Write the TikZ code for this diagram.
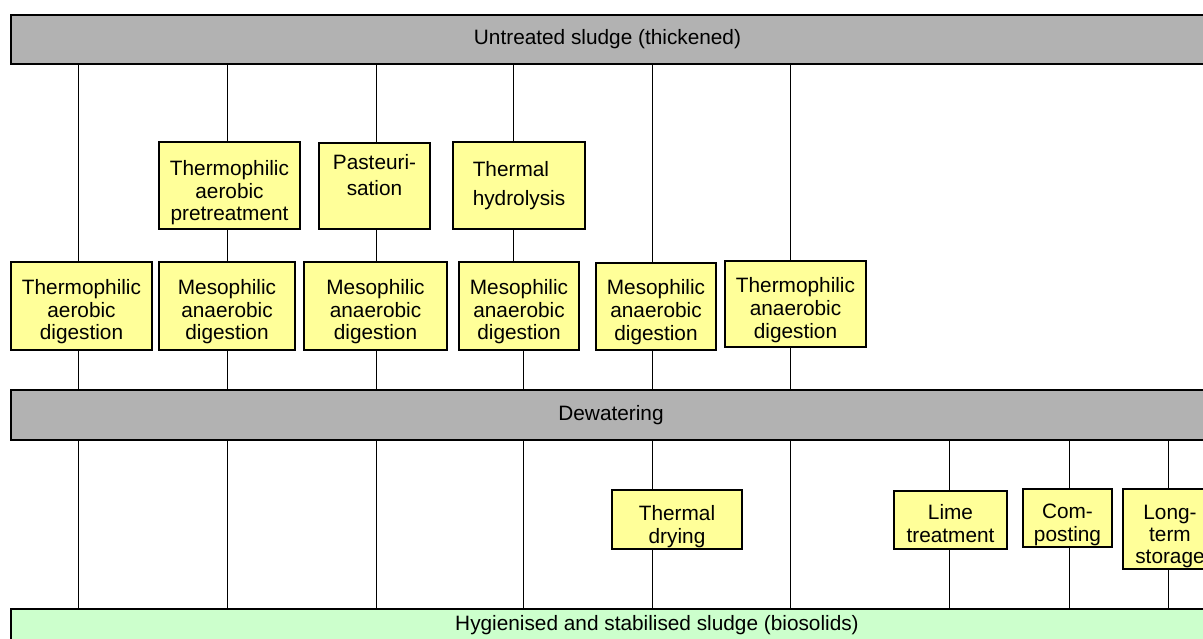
\documentclass[tikz,border=0pt]{standalone}
\usepackage{fontspec}
\setmainfont{Liberation Sans}
\definecolor{bargrey}{HTML}{B2B2B2}
\definecolor{boxyellow}{HTML}{FFFF99}
\definecolor{bargreen}{HTML}{CCFFCC}

\begin{document}
\begin{tikzpicture}
    [
    x=1pt, y=-1pt,
    every node/.style={font=\fontsize{20.8}{22.8}\selectfont},
    bar/.style={draw,line width=1.8pt,fill=bargrey,inner sep=0pt,minimum height=49pt},
    stage/.style={draw,line width=1.5pt,fill=boxyellow,align=center,inner sep=0pt,minimum height=87pt,text height=68pt,text depth=0pt},
    short/.style={text height=47pt},
    link/.style={line width=0.9pt}
    ]
    \useasboundingbox (0,0) rectangle (1203,639);

    % sludge streams
    \node[bar,minimum width=1193pt] (top) at (607.5,39.5) {Untreated sludge (thickened)};
    \node[bar,minimum width=1200pt,minimum height=50pt] (dew) at (611,415) {Dewatering};
    \node[bar,fill=bargreen,minimum width=1292pt,anchor=north,text height=22pt,text depth=30pt] (bio) at (657,608) {Hygienised and stabilised sludge (biosolids)};

    % pretreatment
    \node[stage,minimum width=141pt,text height=71pt] (tap) at (229.5,185.5) {Thermophilic\\aerobic\\pretreatment};
    \node[stage,minimum width=111pt,minimum height=86pt,text height=64pt] (past) at (374.5,186) {Pasteuri-\\[3pt]sation\\\mbox{}};
    \node[stage,minimum width=132pt,align=left,text height=44pt,text depth=4pt] (thy) at (519,185.5) {Thermal\\[6pt]hydrolysis};

    % digestion
    \node[stage,minimum width=141pt,minimum height=88pt] (tad) at (81.5,306) {Thermophilic\\aerobic\\digestion};
    \node[stage,minimum width=136pt,minimum height=88pt] (mad1) at (227,306) {Mesophilic\\anaerobic\\digestion};
    \node[stage,minimum width=143pt,minimum height=88pt] (mad2) at (375.5,306) {Mesophilic\\anaerobic\\digestion};
    \node[stage,minimum width=120pt,minimum height=88pt] (mad3) at (519,306) {Mesophilic\\anaerobic\\digestion};
    \node[stage,minimum width=120pt] (mad4) at (656,306.5) {Mesophilic\\anaerobic\\digestion};
    \node[stage,minimum width=141pt,minimum height=86pt] (thad) at (795.5,304) {Thermophilic\\anaerobic\\digestion};

    % after dewatering
    \node[stage,short,minimum width=130pt,minimum height=59pt] (dry) at (677,519.5) {Thermal\\drying};
    \node[stage,short,minimum width=113pt,minimum height=58pt,text height=45pt] (lime) at (950.5,520) {Lime\\treatment};
    \node[stage,short,minimum width=89pt,minimum height=58pt] (comp) at (1067.5,518) {Com-\\posting};
    \node[stage,minimum width=94pt,minimum height=80pt] (store) at (1170,529) {Long-\\[-1pt]term\\[-1pt]storage};

    % columns
    \coordinate (c1) at (78,0);
    \coordinate (c2) at (227,0);
    \coordinate (c3) at (376,0);
    \coordinate (c4) at (513,0);
    \coordinate (c4b) at (523,0);
    \coordinate (c5) at (652,0);
    \coordinate (c6) at (790,0);
    \coordinate (c7) at (949,0);
    \coordinate (c8) at (1069,0);
    \coordinate (c9) at (1168,0);

    \path[link]
      (top.south -| c1) edge (tad.north -| c1)
      (top.south -| c2) edge (tap.north -| c2)
      (tap.south -| c2) edge (mad1.north -| c2)
      (top.south -| c3) edge (past.north -| c3)
      (past.south -| c3) edge (mad2.north -| c3)
      (top.south -| c4) edge (thy.north -| c4)
      (thy.south -| c4) edge (mad3.north -| c4)
      (top.south -| c5) edge (mad4.north -| c5)
      (top.south -| c6) edge (thad.north -| c6)
      (tad.south -| c1) edge (dew.north -| c1)
      (mad1.south -| c2) edge (dew.north -| c2)
      (mad2.south -| c3) edge (dew.north -| c3)
      (mad3.south -| c4b) edge (dew.north -| c4b)
      (mad4.south -| c5) edge (dew.north -| c5)
      (thad.south -| c6) edge (dew.north -| c6)
      (dew.south -| c1) edge (bio.north -| c1)
      (dew.south -| c2) edge (bio.north -| c2)
      (dew.south -| c3) edge (bio.north -| c3)
      (dew.south -| c4b) edge (bio.north -| c4b)
      (dew.south -| c5) edge (dry.north -| c5)
      (dry.south -| c5) edge (bio.north -| c5)
      (dew.south -| c6) edge (bio.north -| c6)
      (dew.south -| c7) edge (lime.north -| c7)
      (lime.south -| c7) edge (bio.north -| c7)
      (dew.south -| c8) edge (comp.north -| c8)
      (comp.south -| c8) edge (bio.north -| c8)
      (dew.south -| c9) edge (store.north -| c9)
      (store.south -| c9) edge (bio.north -| c9)
    ;
\end{tikzpicture}
\end{document}
